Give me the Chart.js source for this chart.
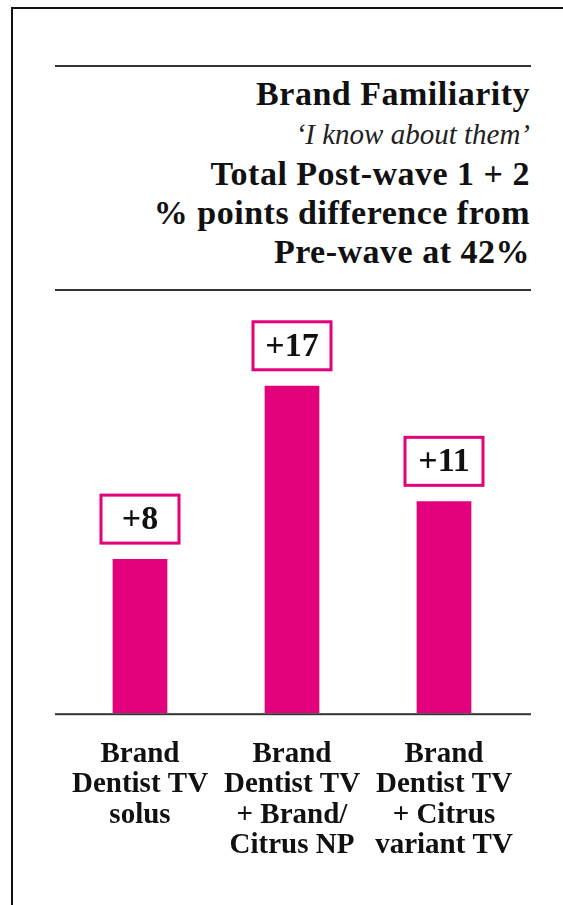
<!DOCTYPE html>
<html>
<head>
<meta charset="utf-8">
<script src="https://cdn.jsdelivr.net/npm/chart.js@4.4.1/dist/chart.umd.min.js"></script>
<style>
  html, body { margin: 0; padding: 0; background: #fff; }
  body { width: 563px; height: 905px; position: relative; overflow: hidden; }
  .frame { position: absolute; left: 11px; top: 7px; width: 600px; height: 950px;
           border-left: 2px solid #111; border-top: 2px solid #111; }
  .rule { position: absolute; left: 55px; width: 476px; height: 2px; background: #333; }
  .title { position: absolute; right: 33px; top: 74px; text-align: right;
           font-family: "Liberation Serif", serif; font-weight: bold; font-size: 34px;
           letter-spacing: 0.5px; line-height: 39px; color: #111; white-space: nowrap; }
  .title .quote { font-weight: normal; font-style: italic; font-size: 29px;
                  letter-spacing: 0; color: #222; }
  #chart-wrap { position: absolute; left: 0; top: 0; width: 563px; height: 905px; }
</style>
</head>
<body>
<div class="frame"></div>
<div class="rule" style="top:65px"></div>
<div class="title">
  Brand Familiarity<br>
  <span class="quote">‘I know about them’</span><br>
  Total Post-wave 1 + 2<br>
  % points difference from<br>
  Pre-wave at 42%
</div>
<div class="rule" style="top:289px"></div>
<div id="chart-wrap"><canvas id="familiarity-chart"></canvas></div>

<script>
// Brand familiarity chart
const categories = [
  ["Brand", "Dentist TV", "solus"],
  ["Brand", "Dentist TV", "+ Brand/", "Citrus NP"],
  ["Brand", "Dentist TV", "+ Citrus", "variant TV"],
];
const pointsDifference = [8, 17, 11];

const magenta = "#e3007b";

// boxed "+N" labels above each bar
const boxLabels = {
  id: "boxLabels",
  afterDatasetsDraw(chart) {
    const ctx = chart.ctx;
    const meta = chart.getDatasetMeta(0);
    meta.data.forEach((bar, i) => {
      const w = 78, h = 48;
      const bottom = bar.y - 16;
      const left = bar.x - w / 2;
      ctx.save();
      ctx.fillStyle = "#fff";
      ctx.fillRect(left, bottom - h, w, h);
      ctx.lineWidth = 3;
      ctx.strokeStyle = magenta;
      ctx.strokeRect(left, bottom - h, w, h);
      ctx.fillStyle = "#111";
      ctx.font = "bold 34px 'Liberation Serif'";
      ctx.textAlign = "center";
      ctx.textBaseline = "middle";
      ctx.fillText("+" + pointsDifference[i], bar.x, bottom - h / 2 + 1);
      ctx.restore();
    });
  },
};

// baseline runs a bit wider than the plot area
const baseline = {
  id: "baseline",
  afterDatasetsDraw(chart) {
    const ctx = chart.ctx;
    const y = chart.scales.y.getPixelForValue(0);
    ctx.save();
    ctx.fillStyle = "#333";
    ctx.fillRect(55, y, 476, 2);
    ctx.restore();
  },
};

const chartElement = document.getElementById("familiarity-chart");
new Chart(chartElement, {
  type: "bar",
  data: {
    labels: categories,
    datasets: [
      {
        data: pointsDifference,
        backgroundColor: magenta,
        borderWidth: 0,
        barPercentage: 0.36,
        categoryPercentage: 1,
      },
    ],
  },
  options: {
    responsive: true,
    maintainAspectRatio: false,
    animation: false,
    layout: {
      padding: { left: 64, right: 43, top: 328, bottom: 18 },
    },
    plugins: {
      legend: { display: false },
      tooltip: { enabled: false },
    },
    scales: {
      x: {
        grid: { display: false, drawTicks: false },
        border: { display: false },
        ticks: {
          padding: 26,
          color: "#111",
          maxRotation: 0,
          autoSkip: false,
          font: { family: "Liberation Serif", weight: "bold", size: 29, lineHeight: 1.05 },
        },
      },
      y: {
        display: false,
        min: 0,
        max: 20,
      },
    },
  },
  plugins: [boxLabels, baseline],
});
</script>
</body>
</html>
